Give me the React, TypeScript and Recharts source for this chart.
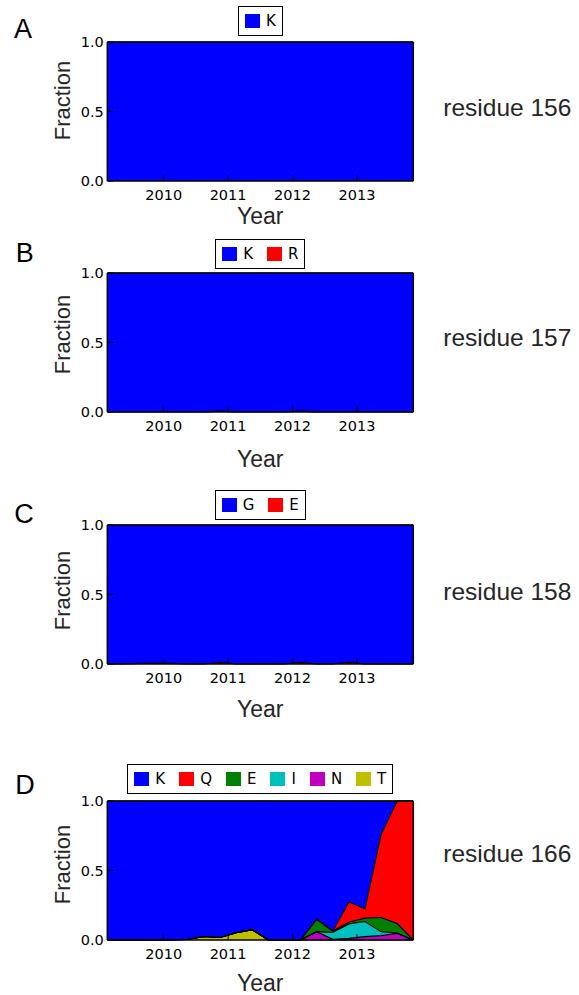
import React from "react";
import { AreaChart, Area, XAxis, YAxis, Legend } from "recharts";

// quarter midpoints, 2009 Q1 .. 2013 Q4
const quarters = [
  2009.125, 2009.375, 2009.625, 2009.875, 2010.125, 2010.375, 2010.625, 2010.875,
  2011.125, 2011.375, 2011.625, 2011.875, 2012.125, 2012.375, 2012.625, 2012.875,
  2013.125, 2013.375, 2013.625, 2013.875,
];
const yearTicks = [2010, 2011, 2012, 2013];
const fractionTicks = [0, 0.5, 1];

// residue 156
const k156 = [1, 1, 1, 1, 1, 1, 1, 1, 1, 1, 1, 1, 1, 1, 1, 1, 1, 1, 1, 1];

// residue 157
const k157 = [1, 1, 1, 1, 1, 1, 1, 0.994, 1, 1, 1, 1, 0.994, 1, 1, 1, 1, 1, 1, 1];
const r157 = [0, 0, 0, 0, 0, 0, 0, 0.006, 0, 0, 0, 0, 0.006, 0, 0, 0, 0, 0, 0, 0];

// residue 158
const g158 = [1, 1, 0.996, 0.996, 0.996, 1, 1, 0.988, 1, 1, 1, 1, 0.988, 1, 1, 0.988, 1, 1, 1, 1];
const e158 = [0, 0, 0.004, 0.004, 0.004, 0, 0, 0.012, 0, 0, 0, 0, 0.012, 0, 0, 0.012, 0, 0, 0, 0];

// residue 166
const k166 = [1, 1, 1, 1, 0.997, 0.995, 0.975, 0.982, 0.948, 0.926, 1, 1, 1, 0.85, 0.935, 0.726, 0.775, 0.24, 0, 0];
const q166 = [0, 0, 0, 0, 0, 0, 0, 0, 0, 0, 0, 0, 0, 0, 0, 0.146, 0.068, 0.598, 0.882, 1];
const e166 = [0, 0, 0, 0, 0, 0, 0, 0, 0, 0, 0, 0, 0, 0.09, 0.01, 0.012, 0.024, 0.102, 0.068, 0];
const i166 = [0, 0, 0, 0, 0, 0, 0, 0, 0, 0, 0, 0, 0, 0, 0.05, 0.104, 0.109, 0.029, 0.002, 0];
const n166 = [0, 0, 0, 0, 0, 0, 0, 0, 0, 0, 0, 0, 0, 0.06, 0.005, 0.012, 0.024, 0.031, 0.048, 0];
const t166 = [0, 0, 0, 0, 0.003, 0.005, 0.025, 0.018, 0.052, 0.074, 0, 0, 0, 0, 0, 0, 0, 0, 0, 0];

const BLUE = "#0000ff";
const RED = "#ff0000";
const GREEN = "#008000";
const CYAN = "#00bfbf";
const MAGENTA = "#bf00bf";
const YELLOW = "#bfbf00";

const TEXT = "#262626";
const SANS = "'Liberation Sans', Arial, sans-serif";

// series are listed in legend order; stacking is the reverse (last one at the bottom)
const panels = [
  {
    letter: "A", residue: "residue 156", plotTop: 42, legendTop: 6,
    fractionDy: -11, yearDy: 34.7, residueBaseline: 116, letterX: 14, letterBaseline: 38.3,
    series: [{ key: "K", values: k156, color: BLUE }],
  },
  {
    letter: "B", residue: "residue 157", plotTop: 273.3, legendTop: 7.7,
    fractionDy: -8, yearDy: 47.3, residueBaseline: 345.7, letterX: 15.7, letterBaseline: 261.7,
    series: [
      { key: "K", values: k157, color: BLUE },
      { key: "R", values: r157, color: RED },
    ],
  },
  {
    letter: "C", residue: "residue 158", plotTop: 524.7, legendTop: 7.3,
    fractionDy: -4, yearDy: 45, residueBaseline: 599.5, letterX: 14.3, letterBaseline: 522.5,
    series: [
      { key: "G", values: g158, color: BLUE },
      { key: "E", values: e158, color: RED },
    ],
  },
  {
    letter: "D", residue: "residue 166", plotTop: 800.7, legendTop: 5.3,
    fractionDy: -6, yearDy: 42.7, residueBaseline: 862.3, letterX: 15.3, letterBaseline: 794.3,
    series: [
      { key: "K", values: k166, color: BLUE },
      { key: "Q", values: q166, color: RED },
      { key: "E", values: e166, color: GREEN },
      { key: "I", values: i166, color: CYAN },
      { key: "N", values: n166, color: MAGENTA },
      { key: "T", values: t166, color: YELLOW },
    ],
  },
];

const PLOT_LEFT = 107.3;
const PLOT_W = 306;
const PLOT_TOP = 42; // inside each chart
const PLOT_H = 139;

function LegendBox({ items }) {
  return (
    <div style={{ display: "flex", justifyContent: "center" }}>
      <div
        style={{
          display: "flex",
          alignItems: "center",
          boxSizing: "border-box",
          height: 30,
          padding: "0 6px",
          border: "1.3px solid #000",
          background: "#fff",
          fontFamily: "'DejaVu Sans', sans-serif",
          fontSize: 15,
          color: "#000",
        }}
      >
        {items.map((s, i) => (
          <div key={s.key} style={{ display: "flex", alignItems: "center", marginLeft: i ? 14 : 0 }}>
            <span style={{ display: "inline-block", width: 15, height: 14, background: s.color, marginRight: 6 }} />
            <span>{s.key}</span>
          </div>
        ))}
      </div>
    </div>
  );
}

function Panel({ p }) {
  const rows = quarters.map((t, i) => {
    const row = { t };
    p.series.forEach((s) => {
      row[s.key] = s.values[i];
    });
    return row;
  });
  const stack = [...p.series].reverse();
  const tickFont = { fill: "#000", fontSize: 14.5, fontFamily: "'DejaVu Sans', sans-serif" };
  const axisLine = { stroke: "#000", strokeWidth: 1.5 };
  const tickLine = { stroke: "#000", strokeWidth: 1 };

  return (
    <div style={{ position: "absolute", left: 0, top: p.plotTop - PLOT_TOP }}>
      <AreaChart
        width={579}
        height={262}
        data={rows}
        margin={{ top: PLOT_TOP - 2, right: 579 - PLOT_LEFT - PLOT_W - 5, bottom: 28, left: PLOT_LEFT - 60 }}
      >
        {stack.map((s) => (
          <Area
            key={"f" + s.key}
            dataKey={s.key}
            stackId="fill"
            type="linear"
            fill={s.color}
            fillOpacity={1}
            stroke="none"
            isAnimationActive={false}
          />
        ))}
        {stack.map((s) => (
          <Area
            key={"l" + s.key}
            dataKey={s.key}
            stackId="edge"
            type="linear"
            fill="none"
            stroke="#000"
            strokeWidth={1.2}
            isAnimationActive={false}
          />
        ))}
        <XAxis
          dataKey="t"
          type="number"
          domain={[2009.125, 2013.875]}
          allowDataOverflow
          ticks={yearTicks}
          interval={0}
          height={53}
          tickSize={-6}
          tickMargin={14.5}
          tick={tickFont}
          axisLine={axisLine}
          tickLine={tickLine}
          label={() => (
            <text
              x={PLOT_LEFT + PLOT_W / 2}
              y={PLOT_TOP + PLOT_H + p.yearDy}
              textAnchor="middle"
              dominantBaseline="central"
              fontFamily={SANS}
              fontSize={23}
              fill={TEXT}
            >
              Year
            </text>
          )}
        />
        <XAxis
          xAxisId="top"
          orientation="top"
          dataKey="t"
          type="number"
          domain={[2009.125, 2013.875]}
          allowDataOverflow
          ticks={yearTicks}
          interval={0}
          height={2}
          tickSize={-6}
          tick={false}
          axisLine={axisLine}
          tickLine={tickLine}
        />
        <YAxis
          domain={[0, 1]}
          ticks={fractionTicks}
          interval={0}
          width={60}
          tickSize={-6}
          tickMargin={9.5}
          tick={tickFont}
          tickFormatter={(v) => v.toFixed(1)}
          axisLine={axisLine}
          tickLine={tickLine}
          label={() => {
            const cx = 62;
            const cy = PLOT_TOP + PLOT_H / 2 + p.fractionDy;
            return (
              <text
                x={cx}
                y={cy}
                transform={`rotate(-90 ${cx} ${cy})`}
                textAnchor="middle"
                dominantBaseline="central"
                fontFamily={SANS}
                fontSize={22}
                fill={TEXT}
              >
                Fraction
              </text>
            );
          }}
        />
        <YAxis
          yAxisId="r"
          orientation="right"
          domain={[0, 1]}
          ticks={fractionTicks}
          interval={0}
          width={5}
          tickSize={-6}
          tick={false}
          axisLine={axisLine}
          tickLine={tickLine}
        />
        <Legend
          layout="horizontal"
          verticalAlign="middle"
          align="center"
          wrapperStyle={{ top: p.legendTop, left: PLOT_LEFT, width: PLOT_W, height: 30 }}
          content={() => <LegendBox items={p.series} />}
        />
      </AreaChart>
    </div>
  );
}

export default function App() {
  return (
    <div
      style={{
        position: "absolute",
        left: 0,
        top: 0,
        width: 579,
        height: 995,
        overflow: "hidden",
        background: "#fff",
      }}
    >
      {panels.map((p) => (
        <Panel key={p.letter} p={p} />
      ))}
      <svg width={579} height={995} style={{ position: "absolute", left: 0, top: 0, pointerEvents: "none" }}>
        {panels.map((p) => (
          <g key={p.letter}>
            <text x={p.letterX} y={p.letterBaseline} fontFamily={SANS} fontSize={27} fill="#000">
              {p.letter}
            </text>
            <text x={443.3} y={p.residueBaseline} fontFamily={SANS} fontSize={24.5} fill={TEXT}>
              {p.residue}
            </text>
          </g>
        ))}
      </svg>
    </div>
  );
}
